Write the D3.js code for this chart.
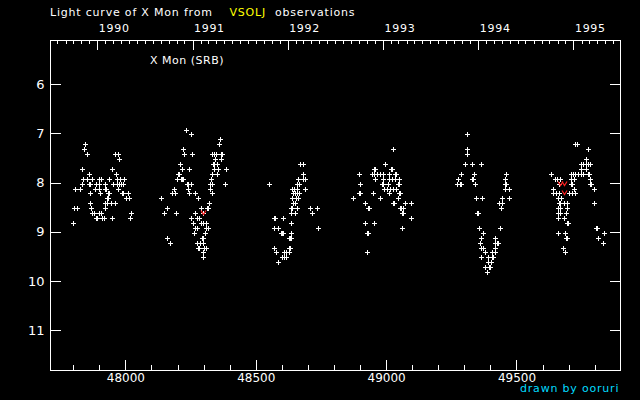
<!DOCTYPE html>
<html><head><meta charset="utf-8">
<script src="https://cdn.jsdelivr.net/npm/d3@7"></script>
<style>html,body{margin:0;padding:0;background:#000;} svg{display:block}</style>
</head><body>
<script>
// ---- texts & ticks ----
const titleParts = ["Light curve of X Mon from", "VSOLJ", "observations"];
const starLabel = "X Mon (SRB)";
const creditText = "drawn by ooruri";
const yearTicks = [1990, 1991, 1992, 1993, 1994, 1995];
const jdMajorTicks = [48000, 48500, 49000, 49500];
const magTicks = [6, 7, 8, 9, 10, 11];

// ---- observations (JD-2400000, visual magnitude), grouped by magnitude row per season ----
const mag1990 = [7.2, 7.3, 7.4, 7.5, 7.7, 7.8, 7.9, 8.0, 8.1, 8.2, 8.3, 8.4, 8.5, 8.6, 8.7, 8.8];
const jd1990 = [
  [47847], [47843], [47854, 47962, 47970], [47975], [47835, 47950], [47862, 47965],
  [47839, 47854, 47873, 47900, 47908, 47939, 47969, 47981, 47995],
  [47835, 47859, 47863, 47889, 47900, 47923, 47954, 47967, 47975, 47982, 47992],
  [47808, 47827, 47885, 47898, 47921, 47925, 47973],
  [47866, 47904, 47933, 47937, 47988, 47992, 48012],
  [47931, 47935, 48003, 48015],
  [47866, 47923, 47931, 47946, 47962],
  [47804, 47816, 47870, 47923],
  [47871, 47878, 47881, 47900, 47908, 48023],
  [47888, 47892, 47912, 47919, 47950, 48019],
  [47801]
];
const mag1991 = [6.9, 7.0, 7.1, 7.2, 7.3, 7.4, 7.5, 7.6, 7.7, 7.8, 7.9, 8.0, 8.1, 8.2, 8.3, 8.4, 8.5, 8.6, 8.7, 8.8, 8.9, 9.0, 9.1, 9.2, 9.3, 9.4, 9.5];
const jd1991 = [
  [48234], [48253], [48364], [48360], [48222],
  [48226, 48257, 48334, 48341, 48349, 48366, 48371],
  [48345, 48368],
  [48211, 48336, 48339, 48353],
  [48219, 48245, 48341, 48357, 48387],
  [48203, 48207, 48334, 48353],
  [48197, 48213, 48217, 48222, 48327],
  [48237, 48241, 48251, 48324, 48334, 48383],
  [48188, 48242, 48326],
  [48180, 48192, 48245, 48268, 48334],
  [48138, 48280],
  [48322],
  [48161, 48291, 48314, 48318],
  [48150, 48196, 48268, 48299],
  [48253, 48276, 48284],
  [48261, 48291, 48299, 48311],
  [48268, 48276, 48311, 48318],
  [48265, 48307],
  [48161, 48293, 48297],
  [48173, 48276, 48288, 48299],
  [48278, 48282, 48303, 48311],
  [48299],
  [48299]
];
const mag1992 = [7.6, 7.8, 7.9, 8.0, 8.1, 8.2, 8.3, 8.4, 8.5, 8.6, 8.7, 8.8, 8.9, 9.0, 9.1, 9.3, 9.4, 9.5, 9.6];
const jd1992 = [
  [48669, 48682], [48680], [48663, 48682, 48690], [48552, 48659, 48667],
  [48640, 48648, 48659, 48690], [48644, 48652, 48659, 48667], [48640, 48656, 48663],
  [48644, 48652], [48634, 48638, 48659, 48709, 48736], [48636, 48652, 48717],
  [48571, 48575, 48606], [48636], [48571, 48587, 48740], [48598, 48602, 48606, 48636],
  [48627, 48631, 48636], [48571, 48626, 48630], [48579, 48610, 48617, 48629],
  [48602, 48610, 48617], [48587]
];
const mag1993 = [7.3, 7.6, 7.7, 7.8, 7.9, 8.0, 8.1, 8.2, 8.3, 8.4, 8.5, 8.6, 8.7, 8.8, 8.9, 9.0, 9.4];
const jd1993 = [
  [49028], [48997], [48955, 48959, 49019, 49023],
  [48897, 48947, 48955, 48966, 48978, 48989, 49012, 49033, 49037],
  [48959, 48989, 49012, 49024, 49035, 49051],
  [48901, 48985, 48989, 49008, 49045, 49049],
  [48993, 49005, 49016, 49028, 49039],
  [48895, 48899, 48950, 49012, 49049, 49053],
  [48874, 48978, 49047],
  [48920, 49026, 49030, 49074, 49097],
  [48930, 48934, 49054, 49058, 49066],
  [49060, 49064], [49097], [48920, 48955], [49062], [48926, 48930], [48928]
];
const mag1994 = [7.0, 7.3, 7.4, 7.6, 7.8, 7.9, 8.0, 8.1, 8.3, 8.4, 8.5, 8.6, 8.9, 9.0, 9.1, 9.2, 9.3, 9.4, 9.5, 9.6, 9.7, 9.8];
const jd1994 = [
  [49311], [49311], [49311], [49304, 49330, 49365], [49288, 49338, 49461],
  [49277, 49328, 49332, 49457], [49273, 49285, 49289, 49342, 49455, 49459],
  [49457, 49472], [49346, 49369, 49445, 49472], [49434, 49445], [49442],
  [49349, 49353], [49357, 49438], [49373], [49365, 49419],
  [49361, 49419, 49426, 49430], [49365, 49373, 49419], [49380, 49407, 49419],
  [49365, 49392, 49405, 49409], [49392, 49403], [49380, 49396, 49400], [49388]
];
const mag1995 = [7.2, 7.3, 7.5, 7.6, 7.7, 7.8, 7.9, 8.0, 8.1, 8.2, 8.3, 8.4, 8.5, 8.6, 8.7, 8.8, 8.9, 9.0, 9.1, 9.2, 9.3, 9.4];
const jd1995 = [
  [49725, 49733], [49775], [49765], [49747, 49756, 49767, 49775, 49783], [49748, 49767],
  [49633, 49710, 49718, 49725, 49737, 49748, 49756, 49773, 49777],
  [49649, 49656, 49667, 49710, 49722, 49783],
  [49664, 49708, 49712, 49781, 49785],
  [49641, 49722, 49798],
  [49641, 49652, 49664, 49702, 49714, 49725],
  [49660, 49672],
  [49662, 49666, 49683, 49695, 49798],
  [49660, 49668, 49695],
  [49660, 49668, 49691],
  [49660, 49683],
  [49693, 49697],
  [49805, 49809],
  [49660, 49687, 49837],
  [49690, 49694, 49814],
  [49833], [49679], [49687]
];
// fainter-than observations (red marks)
const limitJD = [48296, 49667, 49684, 49684];
const limitMag = [8.6, 8.0, 8.0, 8.2];

// ---- build ----
const seasons = [[mag1990, jd1990], [mag1991, jd1991], [mag1992, jd1992], [mag1993, jd1993], [mag1994, jd1994], [mag1995, jd1995]];
const obs = [];
seasons.forEach(([mags, jds]) => mags.forEach((m, i) => jds[i].forEach(j => obs.push({ jd: j, mag: m }))));
const limits = limitJD.map((j, i) => ({ jd: j, mag: limitMag[i] }));

const W = 640, H = 400;
const L = 50, R = 620, T = 40, B = 370;
const x = d3.scaleLinear().domain([47711, 49897]).range([L, R]);
const y = d3.scaleLinear().domain([5.1, 11.81]).range([T, B]);
const FONT = "'DejaVu Sans', Verdana, sans-serif";

const svg = d3.select("body").append("svg").attr("width", W).attr("height", H)
  .style("background", "#000");
svg.append("rect").attr("width", W).attr("height", H).attr("fill", "#000");

function styleAxis(g, size) {
  g.attr("color", "#fff").attr("font-family", FONT).attr("font-size", size)
   .attr("shape-rendering", "crispEdges");
  g.select(".domain").remove();
  g.selectAll("text").attr("fill", "#fff");
}

// bottom axis
const minorJD = d3.range(47800, 49900, 100).filter(d => d % 500 !== 0);
svg.append("g").attr("transform", `translate(0,${B})`)
  .call(d3.axisBottom(x).tickValues(minorJD).tickSize(-5).tickFormat(""))
  .call(g => styleAxis(g, 12));
svg.append("g").attr("transform", `translate(0,${B})`)
  .call(d3.axisBottom(x).tickValues(jdMajorTicks).tickSize(-10).tickPadding(3.5).tickFormat(d3.format("d")))
  .call(g => styleAxis(g, 12));

// left / right axes
svg.append("g").attr("transform", `translate(${L},0)`)
  .call(d3.axisLeft(y).tickValues(magTicks).tickSize(-11).tickPadding(5.5).tickFormat(d3.format("d")))
  .call(g => styleAxis(g, 13));
svg.append("g").attr("transform", `translate(${R},0)`)
  .call(d3.axisRight(y).tickValues(magTicks).tickSize(-10).tickFormat(""))
  .call(g => styleAxis(g, 13));

// top axis: months and years
const toJD = d => d.getTime() / 864e5 + 40587.5;
const fromJD = j => new Date((j - 40587.5) * 864e5);
const months = d3.utcMonth.range(fromJD(x.domain()[0]), fromJD(x.domain()[1]))
  .filter(d => d.getUTCMonth() !== 0).map(toJD);
const years = yearTicks.map(yr => toJD(new Date(Date.UTC(yr, 0, 1))));
svg.append("g").attr("transform", `translate(0,${T})`)
  .call(d3.axisTop(x).tickValues(months).tickSize(-4).tickFormat(""))
  .call(g => styleAxis(g, 11));
svg.append("g").attr("transform", `translate(0,${T})`)
  .call(d3.axisTop(x).tickValues(years).tickSize(-10).tickPadding(8)
    .tickFormat((d, i) => String(yearTicks[i])))
  .call(g => styleAxis(g, 11))
  .call(g => g.selectAll("text").attr("text-anchor", "start").attr("x", 1)
    .attr("letter-spacing", 0.7));

// frame
svg.append("rect").attr("x", L + 0.5).attr("y", T + 0.5).attr("width", R - L).attr("height", B - T)
  .attr("fill", "none").attr("stroke", "#fff").attr("shape-rendering", "crispEdges");

// observations as small plus marks
const pts = svg.append("g").attr("fill", "#fff").attr("shape-rendering", "crispEdges");
obs.forEach(d => {
  const px = Math.round(x(d.jd)), py = Math.round(y(d.mag)) + 1;
  pts.append("rect").attr("x", px - 2).attr("y", py).attr("width", 5).attr("height", 1);
  pts.append("rect").attr("x", px).attr("y", py - 2).attr("width", 1).attr("height", 5);
});
// fainter-than marks (red V)
svg.append("g").selectAll("path").data(limits).join("path")
  .attr("d", d => {
    const px = Math.round(x(d.jd)) + 0.5, py = Math.round(y(d.mag)) + 0.5;
    return `M${px - 2.5},${py - 2}L${px},${py + 2}L${px + 2.5},${py - 2}`;
  })
  .attr("fill", "none").attr("stroke", "#ff2020").attr("stroke-width", 1.2);

// texts
const txt = (s, tx, ty, color, size, ls) => svg.append("text").attr("x", tx).attr("y", ty)
  .attr("fill", color).attr("font-family", FONT).attr("font-size", size)
  .attr("letter-spacing", ls).text(s);
txt(titleParts[0], 50, 16, "#fff", 11, 0.8);
txt(titleParts[1], 229.5, 16, "#ffff00", 11, 0.8);
txt(titleParts[2], 275, 16, "#fff", 11, 0.8);
txt(starLabel, 150, 64, "#fff", 11, 0.5);
txt(creditText, 520, 392, "#00dcff", 11, 0.8);
</script>
</body></html>
